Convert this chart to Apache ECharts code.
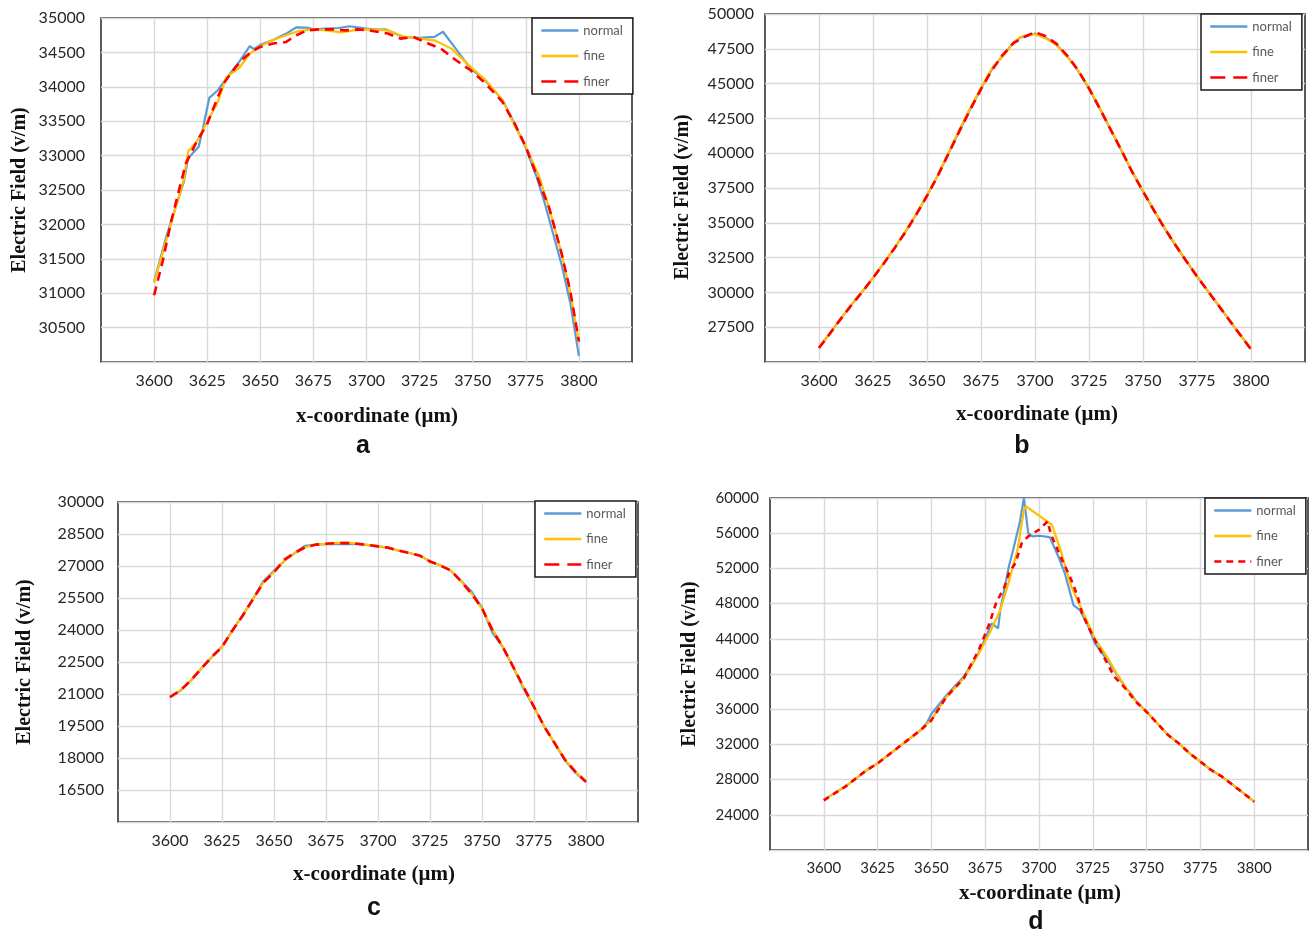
<!DOCTYPE html>
<html>
<head>
<meta charset="utf-8">
<script src="https://cdn.jsdelivr.net/npm/echarts@6/dist/echarts.min.js"></script>
<style>
  html, body { margin: 0; padding: 0; background: #fff; }
  #chart { width: 1309px; height: 934px; }
</style>
</head>
<body>
<div id="chart"></div>
<script>
// ---- Panel a: field along the line, three mesh densities ----
const aNormalX = [3600, 3606, 3609, 3614, 3616, 3621, 3623, 3626, 3630, 3634, 3640, 3645, 3647, 3650, 3656, 3662, 3667, 3672, 3675, 3681, 3687, 3692, 3700, 3706, 3709, 3717, 3725, 3732, 3736, 3742, 3749, 3755, 3764, 3770, 3775, 3780, 3784, 3788, 3792, 3796, 3800];
const aNormalY = [31170, 31850, 32140, 32620, 32960, 33130, 33400, 33840, 33950, 34120, 34360, 34590, 34550, 34610, 34680, 34770, 34865, 34860, 34835, 34845, 34855, 34880, 34845, 34830, 34835, 34725, 34710, 34725, 34800, 34555, 34265, 34120, 33810, 33450, 33110, 32700, 32300, 31850, 31400, 30850, 30090];
const aFineX = [3600, 3606, 3614, 3616, 3620, 3625, 3630, 3634, 3640, 3645, 3650, 3656, 3662, 3668, 3675, 3681, 3688, 3694, 3700, 3710, 3718, 3725, 3732, 3740, 3749, 3756, 3764, 3770, 3775, 3781, 3786, 3792, 3796, 3800];
const aFineY = [31150, 31800, 32650, 33060, 33200, 33490, 33780, 34140, 34270, 34480, 34590, 34680, 34750, 34810, 34835, 34820, 34790, 34820, 34835, 34820, 34725, 34700, 34675, 34555, 34290, 34100, 33810, 33420, 33130, 32720, 32240, 31560, 31000, 30280];
const aFinerX = [3600, 3604, 3608, 3612, 3615, 3620, 3625, 3630, 3633, 3638, 3642, 3646, 3650, 3656, 3662, 3667, 3672, 3678, 3684, 3690, 3696, 3701, 3710, 3716, 3722, 3729, 3735, 3742, 3749, 3756, 3764, 3770, 3775, 3780, 3786, 3792, 3796, 3800];
const aFinerY = [30970, 31460, 32040, 32530, 32890, 33200, 33460, 33850, 34060, 34270, 34410, 34510, 34580, 34630, 34650, 34750, 34820, 34835, 34835, 34820, 34835, 34820, 34775, 34700, 34725, 34630, 34555, 34390, 34240, 34050, 33780, 33450, 33130, 32720, 32240, 31560, 31020, 30300];

// ---- Panel b ----
const bNormalX = [3600, 3605, 3610, 3615, 3620, 3625, 3630, 3635, 3640, 3645, 3650, 3655, 3660, 3665, 3670, 3675, 3680, 3685, 3690, 3693, 3697, 3700, 3705, 3710, 3715, 3720, 3725, 3730, 3735, 3740, 3745, 3750, 3755, 3760, 3765, 3770, 3775, 3780, 3785, 3790, 3795, 3800];
const bNormalY = [26030, 27050, 28100, 29100, 30050, 31050, 32100, 33200, 34350, 35600, 36950, 38400, 40000, 41600, 43150, 44650, 46000, 47000, 47950, 48300, 48450, 48600, 48300, 47800, 46950, 45900, 44650, 43200, 41700, 40200, 38650, 37250, 35900, 34600, 33400, 32250, 31150, 30100, 29050, 28000, 26950, 25930];
const bFineX = bNormalX;
const bFineY = [26050, 27080, 28120, 29120, 30060, 31060, 32120, 33220, 34380, 35620, 36980, 38420, 40050, 41700, 43250, 44700, 46100, 46950, 47900, 48350, 48500, 48550, 48250, 47750, 46900, 45950, 44700, 43250, 41750, 40250, 38700, 37300, 35950, 34650, 33450, 32300, 31200, 30120, 29080, 28020, 26980, 25950];
const bFinerX = [3600, 3605, 3610, 3615, 3620, 3625, 3630, 3635, 3640, 3645, 3650, 3655, 3660, 3665, 3670, 3675, 3680, 3685, 3690, 3695, 3700, 3705, 3710, 3715, 3720, 3725, 3730, 3735, 3740, 3745, 3750, 3755, 3760, 3765, 3770, 3775, 3780, 3785, 3790, 3795, 3800];
const bFinerY = [26000, 27030, 28080, 29080, 30030, 31030, 32080, 33180, 34330, 35580, 36930, 38380, 39980, 41580, 43120, 44600, 45950, 47050, 47900, 48350, 48700, 48400, 47850, 47000, 45950, 44650, 43200, 41700, 40200, 38650, 37250, 35900, 34600, 33400, 32250, 31150, 30100, 29050, 28000, 26950, 25900];

// ---- Panel c ----
const cNormalX = [3600, 3605, 3610, 3615, 3620, 3625, 3630, 3635, 3640, 3645, 3650, 3655, 3660, 3665, 3670, 3675, 3680, 3685, 3690, 3695, 3700, 3705, 3710, 3715, 3720, 3725, 3730, 3735, 3740, 3745, 3750, 3755, 3760, 3765, 3770, 3775, 3780, 3785, 3790, 3795, 3800];
const cNormalY = [20860, 21150, 21620, 22180, 22720, 23220, 23980, 24700, 25480, 26300, 26780, 27240, 27600, 27950, 28000, 28020, 28030, 28030, 28020, 27980, 27920, 27850, 27720, 27610, 27490, 27220, 27020, 26780, 26300, 25800, 25050, 23880, 23200, 22250, 21250, 20380, 19460, 18680, 17880, 17300, 16880];
const cFineX = cNormalX;
const cFineY = [20870, 21180, 21640, 22200, 22720, 23200, 23960, 24680, 25460, 26240, 26720, 27250, 27600, 27880, 28000, 28040, 28080, 28100, 28050, 27990, 27930, 27850, 27720, 27610, 27490, 27210, 27030, 26790, 26270, 25700, 25000, 24050, 23220, 22270, 21330, 20400, 19460, 18700, 17920, 17350, 16900];
const cFinerX = cNormalX;
const cFinerY = [20850, 21170, 21640, 22190, 22730, 23200, 23980, 24680, 25460, 26240, 26700, 27300, 27620, 27880, 28000, 28040, 28070, 28080, 28040, 27990, 27920, 27860, 27720, 27610, 27490, 27210, 27020, 26790, 26270, 25700, 25020, 23990, 23200, 22270, 21330, 20400, 19460, 18680, 17900, 17350, 16880];

// ---- Panel d ----
const dNormalX = [3600, 3610, 3620, 3625, 3630, 3640, 3645, 3648, 3650, 3657, 3665, 3671, 3675, 3678, 3681, 3682, 3686, 3688, 3691, 3693, 3695, 3697, 3700, 3705, 3709, 3712, 3716, 3719, 3723, 3726, 3732, 3736, 3740, 3743, 3745, 3750, 3755, 3760, 3765, 3770, 3775, 3780, 3785, 3790, 3795, 3800];
const dNormalY = [25700, 27210, 29090, 29850, 30790, 32680, 33620, 34500, 35450, 37590, 39680, 41960, 44000, 45760, 45190, 47270, 52210, 54110, 57150, 60000, 56010, 55630, 55710, 55560, 53350, 51450, 47840, 47270, 45370, 43470, 41500, 40000, 38500, 37700, 36950, 35700, 34380, 33060, 32110, 30980, 30040, 29090, 28340, 27400, 26450, 25510];
const dFineX = [3600, 3610, 3620, 3625, 3630, 3640, 3645, 3650, 3657, 3665, 3672, 3677, 3682, 3686, 3690, 3693, 3694, 3706, 3710, 3715, 3720, 3726, 3732, 3736, 3740, 3745, 3750, 3755, 3760, 3765, 3770, 3775, 3780, 3785, 3790, 3795, 3800];
const dFineY = [25700, 27210, 29090, 29850, 30790, 32680, 33620, 34800, 37400, 39490, 42340, 44620, 47270, 50500, 54110, 58670, 59050, 56960, 54110, 49930, 47270, 44000, 41800, 40100, 38600, 36900, 35700, 34380, 33060, 32110, 30980, 30040, 29090, 28340, 27400, 26450, 25510];
const dFinerX = [3600, 3610, 3620, 3625, 3630, 3640, 3645, 3650, 3657, 3665, 3672, 3677, 3680, 3684, 3686, 3689, 3692, 3695, 3700, 3704, 3705, 3706, 3710, 3715, 3718, 3720, 3725, 3730, 3735, 3740, 3745, 3750, 3755, 3760, 3765, 3770, 3775, 3780, 3785, 3790, 3795, 3800];
const dFinerY = [25650, 27200, 29090, 29850, 30790, 32680, 33620, 34750, 37400, 39490, 42720, 45760, 48030, 49930, 51450, 52590, 54870, 55630, 56390, 57340, 56390, 55630, 53350, 50690, 48790, 46900, 44300, 42000, 39700, 38400, 36850, 35700, 34380, 33060, 32110, 30980, 30040, 29090, 28340, 27400, 26450, 25500];

const seriesNames = ['normal', 'fine', 'finer'];
const yAxisTitle = 'Electric Field (v/m)';
const xAxisTitle = 'x-coordinate (\u03bcm)';
const panelLetters = ['a', 'b', 'c', 'd'];

const pairs = (xs, ys) => xs.map((x, i) => [x, ys[i]]);

const panels = [
  { grid: { left: 101, right: 677, top: 18, bottom: 572 }, y: [30000, 35000, 500], lab: 16,
    data: [pairs(aNormalX, aNormalY), pairs(aFineX, aFineY), pairs(aFinerX, aFinerY)],
    yGap: 71, xGap: 44, xPad: [0, 0, 0, 21], yPad: [0, 0, 0, 0], labMargin: 16,
    legend: { left: 532, top: 18 }, dash: [9, 6], keyDash: [15, 8] },
  { grid: { left: 765, right: 4, top: 14, bottom: 572 }, y: [25000, 50000, 2500], lab: 16,
    data: [pairs(bNormalX, bNormalY), pairs(bFineX, bFineY), pairs(bFinerX, bFinerY)],
    yGap: 72, xGap: 42, xPad: [0, 0, 0, 4], yPad: [0, 18, 0, 0], labMargin: 11,
    legend: { left: 1201, top: 14 }, dash: [9, 6], keyDash: [15, 8] },
  { grid: { left: 118, right: 671, top: 502, bottom: 112 }, y: [15000, 30000, 1500], lab: 16,
    data: [pairs(cNormalX, cNormalY), pairs(cFineX, cFineY), pairs(cFinerX, cFinerY)],
    yGap: 83, xGap: 42, xPad: [0, 8, 0, 0], yPad: [0, 0, 0, 0], labMargin: 14,
    legend: { left: 535, top: 501 }, dash: [9, 6], keyDash: [15, 8] },
  { grid: { left: 770, right: 1, top: 498, bottom: 84 }, y: [20000, 60000, 4000], lab: 15,
    data: [pairs(dNormalX, dNormalY), pairs(dFineX, dFineY), pairs(dFinerX, dFinerY)],
    yGap: 70, xGap: 33, xPad: [0, 0, 0, 2], yPad: [0, 0, 0, 20], labMargin: 11,
    legend: { left: 1205, top: 498 }, dash: [6, 5], keyDash: [7, 5] }
];

const lineColors = ['#5B9BD5', '#FFC000', '#FF0000'];
const tickFont = 'Lato, "Open Sans", sans-serif';
const titleFont = '"Liberation Serif", "Times New Roman", serif';
const plain = v => String(v);

const option = {
  animation: false,
  backgroundColor: '#ffffff',
  grid: [], xAxis: [], yAxis: [], series: [], legend: [], graphic: []
};

panels.forEach((p, k) => {
  option.grid.push(Object.assign({
    show: true, borderColor: '#262626', borderWidth: 1.5, backgroundColor: '#fff', containLabel: false
  }, p.grid));

  option.xAxis.push({
    type: 'value', gridIndex: k, min: 3575, max: 3825, interval: 25,
    axisLine: { show: false }, axisTick: { show: false },
    axisLabel: { showMinLabel: false, showMaxLabel: false, color: '#262626', formatter: plain,
      fontFamily: tickFont, fontSize: p.lab, margin: 11 },
    splitLine: { show: true, showMinLine: false, showMaxLine: false,
      lineStyle: { color: '#d9d9d9', width: 1.4 } },
    name: xAxisTitle, nameLocation: 'middle', nameGap: p.xGap,
    nameTextStyle: { fontFamily: titleFont, fontWeight: 'bold', fontSize: 21, color: '#111', padding: p.xPad }
  });

  option.yAxis.push({
    type: 'value', gridIndex: k, min: p.y[0], max: p.y[1], interval: p.y[2],
    axisLine: { show: false }, axisTick: { show: false },
    axisLabel: { showMinLabel: false, color: '#262626', fontFamily: tickFont, formatter: plain,
      fontSize: p.lab, margin: p.labMargin },
    splitLine: { show: true, lineStyle: { color: '#d9d9d9', width: 1.4 } },
    name: yAxisTitle, nameLocation: 'middle', nameGap: p.yGap,
    nameTextStyle: { fontFamily: titleFont, fontWeight: 'bold', fontSize: 20, color: '#111', padding: p.yPad }
  });

  seriesNames.forEach((name, s) => {
    option.series.push({
      type: 'line', name: name, xAxisIndex: k, yAxisIndex: k,
      data: p.data[s], symbol: 'none', smooth: false,
      lineStyle: {
        color: lineColors[s],
        width: s === 2 ? 2.6 : 2.2,
        type: s === 2 ? p.dash : 'solid'
      },
      itemStyle: { color: lineColors[s] },
      z: 2 + s
    });
  });

  option.legend.push({
    left: p.legend.left, top: p.legend.top, orient: 'vertical',
    data: [
      { name: seriesNames[0] },
      { name: seriesNames[1] },
      { name: seriesNames[2], lineStyle: { type: p.keyDash, width: 2.6 } }
    ],
    selectedMode: false,
    backgroundColor: '#fff', borderColor: '#1a1a1a', borderWidth: 1.5, borderRadius: 0,
    padding: [6, 10, 6, 8], itemGap: 12.5, itemWidth: 37, itemHeight: 14,
    itemStyle: { opacity: 0 },
    lineStyle: { width: 2.4 },
    textStyle: { color: '#595959', fontSize: 13, fontFamily: tickFont },
    z: 10
  });
});

// Sub-figure letters below each panel
const letterPos = [[363, 446], [1022, 446], [374, 908], [1036, 922]];
panelLetters.forEach((t, i) => {
  option.graphic.push({
    type: 'text', x: letterPos[i][0], y: letterPos[i][1],
    style: { text: t, font: 'bold 25px "Liberation Sans", Arial, sans-serif',
      fill: '#111', textAlign: 'center', textVerticalAlign: 'middle' }
  });
});

const chart = echarts.init(document.getElementById('chart'), null, { renderer: 'canvas' });
chart.setOption(option);
</script>
</body>
</html>
